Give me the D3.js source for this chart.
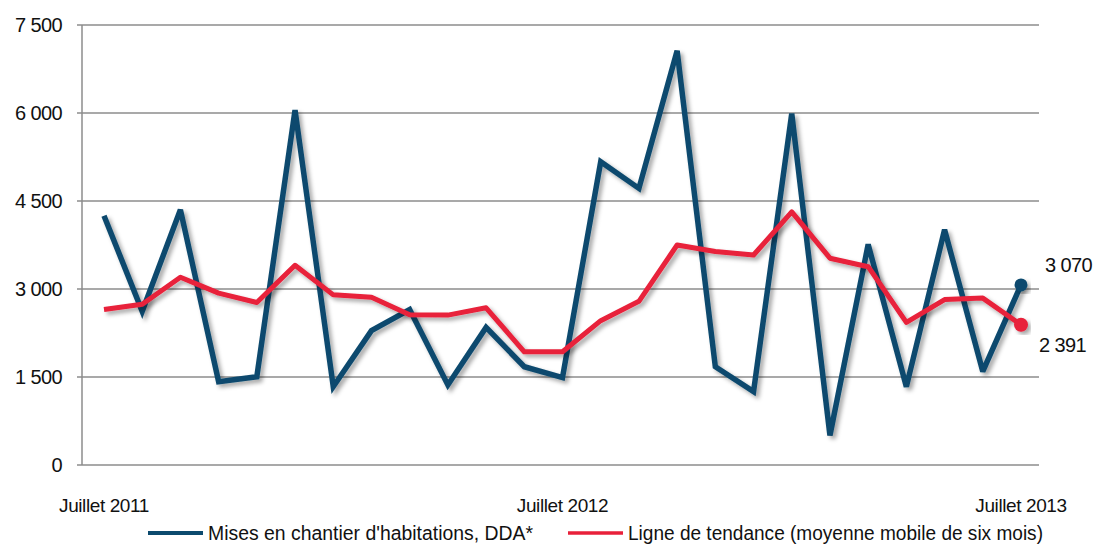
<!DOCTYPE html>
<html><head><meta charset="utf-8">
<script src="https://cdn.jsdelivr.net/npm/d3@7/dist/d3.min.js"></script>
<style>
html,body{margin:0;padding:0;background:#fff;}
svg{display:block;font-family:"Liberation Sans",Arial,sans-serif;}
</style></head>
<body>
<svg id="chart" width="1100" height="546"></svg>
<script>
const months = d3.range(25); // Juillet 2011 .. Juillet 2013 (monthly)
const startsSeries = [4250,2620,4350,1420,1505,6050,1335,2290,2650,1365,2345,1675,1490,5170,4715,7060,1675,1250,5990,505,3760,1335,4010,1595,3070];
const trendSeries = [2650,2740,3200,2930,2770,3405,2900,2860,2560,2555,2680,1930,1930,2460,2790,3750,3640,3580,4315,3525,3380,2430,2820,2845,2391];
const yTicks = [0,1500,3000,4500,6000,7500];
const xLabels = [{i:0,t:"Juillet 2011"},{i:12,t:"Juillet 2012"},{i:24,t:"Juillet 2013"}];
const seriesNames = ["Mises en chantier d'habitations, DDA*","Ligne de tendance (moyenne mobile de six mois)"];
const lastLabels = ["3 070","2 391"];

const svg = d3.select("#chart");
const blue = "#0c4a6e", red = "#e8203a", grid = "#8c8c8c";

const x = d3.scalePoint().domain(months).range([104,1021]);
const y = d3.scaleLinear().domain([0,7500]).range([465,25]);
const fmt = v => d3.format(",")(v).replace(/,/g," ");

const defs = svg.append("defs");
const f = defs.append("filter").attr("id","sh").attr("x","-10%").attr("y","-10%").attr("width","130%").attr("height","130%");
f.append("feDropShadow").attr("dx",3).attr("dy",3).attr("stdDeviation",2).attr("flood-color","#000").attr("flood-opacity",0.35);

// gridlines
svg.append("g").selectAll("line").data(yTicks).join("line")
  .attr("x1",77).attr("x2",1039).attr("y1",d=>y(d)).attr("y2",d=>y(d))
  .attr("stroke",grid).attr("stroke-width",1.5);
// y axis line
svg.append("line").attr("x1",82).attr("x2",82).attr("y1",y(7500)).attr("y2",y(0)).attr("stroke",grid).attr("stroke-width",1.5);

// y labels
svg.append("g").selectAll("text").data(yTicks).join("text")
  .attr("x",62).attr("y",d=>y(d)+7).attr("text-anchor","end")
  .attr("font-size",20).attr("letter-spacing","-0.6").attr("fill","#111").text(d=>fmt(d));

// x labels
svg.append("g").selectAll("text").data(xLabels).join("text")
  .attr("x",d=>x(d.i)).attr("y",512).attr("text-anchor","middle")
  .attr("font-size",19).attr("letter-spacing","-0.4").attr("fill","#111").text(d=>d.t);

const line = d3.line().x((d,i)=>x(months[i])).y(d=>y(d));

svg.append("path").datum(startsSeries).attr("d",line).attr("fill","none")
  .attr("stroke",blue).attr("stroke-width",5.5).attr("stroke-linejoin","miter").attr("stroke-miterlimit",3).attr("filter","url(#sh)");
svg.append("path").datum(trendSeries).attr("d",line).attr("fill","none")
  .attr("stroke",red).attr("stroke-width",5).attr("stroke-linejoin","round").attr("filter","url(#sh)");

svg.append("circle").attr("cx",x(24)).attr("cy",y(startsSeries[24])).attr("r",6.5).attr("fill",blue).attr("filter","url(#sh)");
svg.append("circle").attr("cx",x(24)).attr("cy",y(trendSeries[24])).attr("r",7).attr("fill",red).attr("filter","url(#sh)");

svg.append("text").attr("x",1045).attr("y",272).attr("font-size",20).attr("letter-spacing","-0.6").attr("fill","#111").text(lastLabels[0]);
svg.append("text").attr("x",1039).attr("y",352).attr("font-size",20).attr("letter-spacing","-0.6").attr("fill","#111").text(lastLabels[1]);

// legend
const leg = [{c:blue,x1:148,x2:203,tx:208,w:325},{c:red,x1:568,x2:623,tx:628,w:415}];
leg.forEach((l,i)=>{
  svg.append("line").attr("x1",l.x1).attr("x2",l.x2).attr("y1",533).attr("y2",533).attr("stroke",l.c).attr("stroke-width",i===0?4:3.5);
  svg.append("text").attr("x",l.tx).attr("y",540).attr("font-size",20).attr("fill","#111")
    .attr("textLength",l.w).attr("lengthAdjust","spacingAndGlyphs").text(seriesNames[i]);
});
</script>
</body></html>
